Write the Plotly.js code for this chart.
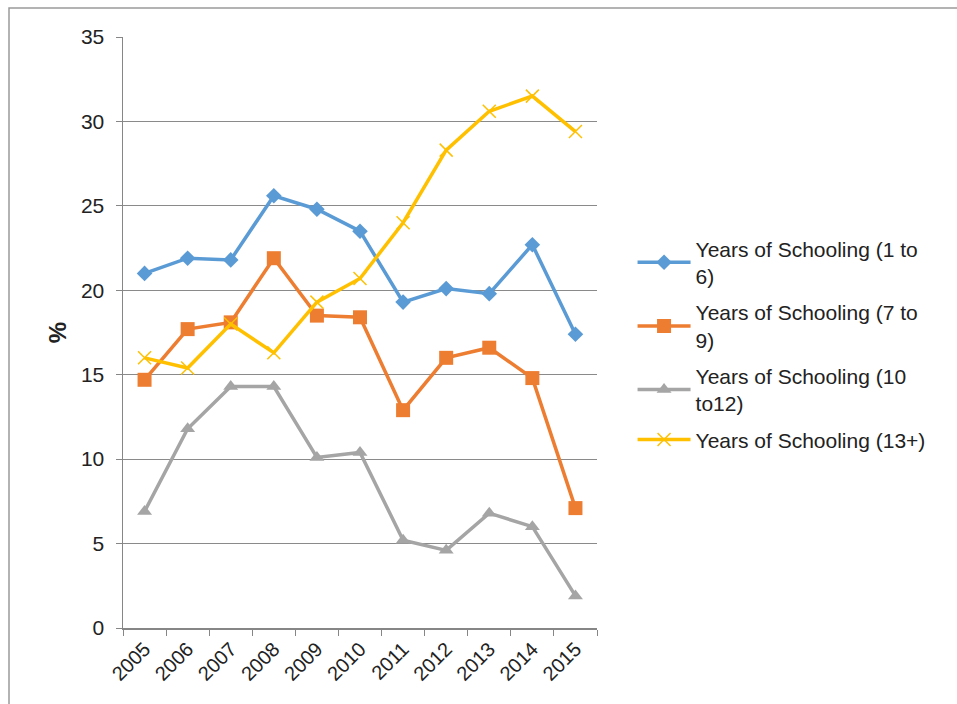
<!DOCTYPE html>
<html>
<head>
<meta charset="utf-8">
<script src="https://cdn.plot.ly/plotly-3.0.1.min.js"></script>
<style>
html,body{margin:0;padding:0;background:#fff;}
#chart{width:957px;height:704px;}
</style>
</head>
<body>
<div id="chart"></div>
<script>
const years = ["2005","2006","2007","2008","2009","2010","2011","2012","2013","2014","2015"];
const names = ["Years of Schooling (1 to<br>6)","Years of Schooling (7 to<br>9)","Years of Schooling (10<br>to12)","Years of Schooling (13+)"];
const s1to6 = [21.0,21.9,21.8,25.6,24.8,23.5,19.3,20.1,19.8,22.7,17.4];
const s7to9 = [14.7,17.7,18.1,21.9,18.5,18.4,12.9,16.0,16.6,14.8,7.1];
const s10to12 = [6.9,11.8,14.3,14.3,10.1,10.4,5.2,4.6,6.8,6.0,1.9];
const s13plus = [16.0,15.4,18.0,16.3,19.3,20.7,24.0,28.3,30.6,31.5,29.4];
const yTicks = [0,5,10,15,20,25,30,35];

const colors = ["#5B9BD5","#ED7D31","#A5A5A5","#FFC000"];
const series = [s1to6, s7to9, s10to12, s13plus];
const markers = [
  {symbol:"diamond", size:12},
  {symbol:"square", size:14},
  {symbol:"triangle-up", size:13},
  {symbol:"x-thin-open", size:13}
];
const traces = series.map((v,i)=>({
  type:"scatter", mode:"lines+markers", x:years, y:v, name:names[i],
  legendgroup:"g"+i,
  line:{color:colors[i], width:3.5},
  marker:{symbol:markers[i].symbol, size:markers[i].size, color:colors[i], line:{color:colors[i], width: i===3?1.5:0}}
}));

const layout = {
  width:957, height:704,
  margin:{l:123, r:360, t:37, b:76},
  paper_bgcolor:"#fff", plot_bgcolor:"#fff",
  font:{family:"Liberation Sans, Arial, sans-serif", color:"#222"},
  showlegend:true,
  legend:{x:1.075, y:0.676, xanchor:"left", yanchor:"top", font:{size:21, color:"#222"}, tracegroupgap:6,
    itemwidth:53, bgcolor:"rgba(0,0,0,0)"},
  xaxis:{type:"category", range:[-0.5,10.5], tickson:"boundaries", ticks:"outside", ticklen:6, tickcolor:"#868686",
    showline:true, linecolor:"#868686", linewidth:1.5, showgrid:false, tickangle:-45,
    tickfont:{size:20, color:"#222"}},
  yaxis:{range:[0,35], tickvals:yTicks, ticks:"outside", ticklen:6, tickcolor:"#868686", ticklabelstandoff:7,
    showline:true, linecolor:"#868686", linewidth:1.5, showgrid:true, gridcolor:"#8a8a8a", gridwidth:1,
    zeroline:false, tickfont:{size:21, color:"#222"},
    title:{text:"<b>%</b>", font:{size:24, color:"#222"}, standoff:7}},
  shapes:[{type:"rect", xref:"paper", yref:"paper", x0:(9-123)/474, x1:(990-123)/474, y0:(628-740)/591, y1:(628-8)/591,
    line:{color:"#9a9a9a", width:1.5}, fillcolor:"rgba(0,0,0,0)", layer:"below"}]
};
Plotly.newPlot("chart", traces, layout, {staticPlot:true});
</script>
</body>
</html>
